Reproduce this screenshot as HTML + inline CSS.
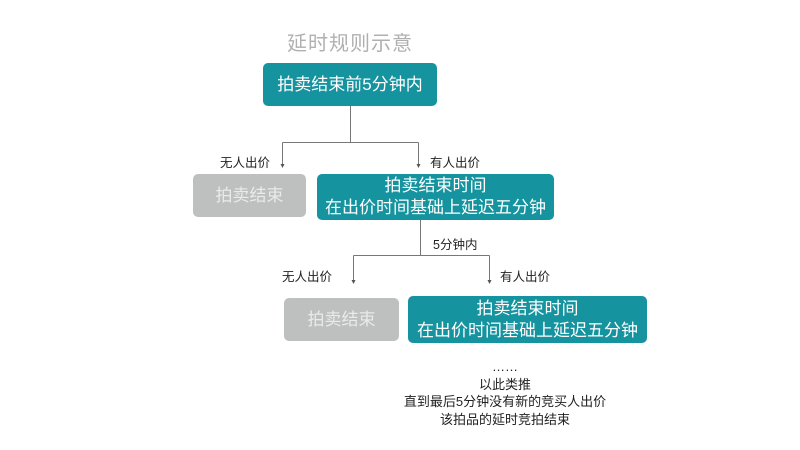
<!DOCTYPE html>
<html><head><meta charset="utf-8"><style>
body{margin:0;width:800px;height:450px;background:#fff;position:relative;overflow:hidden;font-family:"Liberation Sans","Noto Sans CJK SC",sans-serif;}
.a{position:absolute;}
.box{position:absolute;border-radius:5px;display:flex;align-items:center;justify-content:center;text-align:center;line-height:22px;}
.t{background:#15939f;color:#fff;font-size:17px;}
.g{background:#bebfbf;color:#eaeaea;font-size:17px;}
.lbl{position:absolute;font-size:12.5px;color:#222;white-space:nowrap;}
</style></head><body>
<div class="a" style="left:287px;top:27px;font-size:20px;color:#b0b0b0;letter-spacing:1px;">延时规则示意</div>
<div class="box t" style="left:263px;top:63px;width:174px;height:43px;">拍卖结束前5分钟内</div>
<div class="box g" style="left:193px;top:174px;width:113px;height:43px;">拍卖结束</div>
<div class="box t" style="left:317px;top:174px;width:237px;height:46px;">拍卖结束时间<br>在出价时间基础上延迟五分钟</div>
<div class="box g" style="left:284px;top:298px;width:115px;height:43px;">拍卖结束</div>
<div class="box t" style="left:408px;top:296px;width:239px;height:47px;">拍卖结束时间<br>在出价时间基础上延迟五分钟</div>
<svg class="a" style="left:0;top:0" width="800" height="450">
<g stroke="#777" stroke-width="1" fill="none">
<path d="M350.5 106V142.5M282.5 142.5H418.5M282.5 142.5V165M418.5 142.5V165"/>
<path d="M420.5 220V255.5M353.5 255.5H489.5M353.5 255.5V281M489.5 255.5V281"/>
</g>
<g fill="#555">
<path d="M280.5 164l2 4 2-4z"/><path d="M416.5 164l2 4 2-4z"/>
<path d="M351.5 280l2 4 2-4z"/><path d="M487.5 280l2 4 2-4z"/>
</g>
</svg>
<div class="lbl" style="left:220px;top:152px;">无人出价</div>
<div class="lbl" style="left:430px;top:152px;">有人出价</div>
<div class="lbl" style="left:433px;top:234px;">5分钟内</div>
<div class="lbl" style="left:282px;top:266px;">无人出价</div>
<div class="lbl" style="left:500px;top:266px;">有人出价</div>
<div class="a" style="left:375px;width:260px;top:358px;text-align:center;font-size:13px;color:#222;line-height:17.5px;">……<br>以此类推<br>直到最后5分钟没有新的竞买人出价<br>该拍品的延时竞拍结束</div>
</body></html>
